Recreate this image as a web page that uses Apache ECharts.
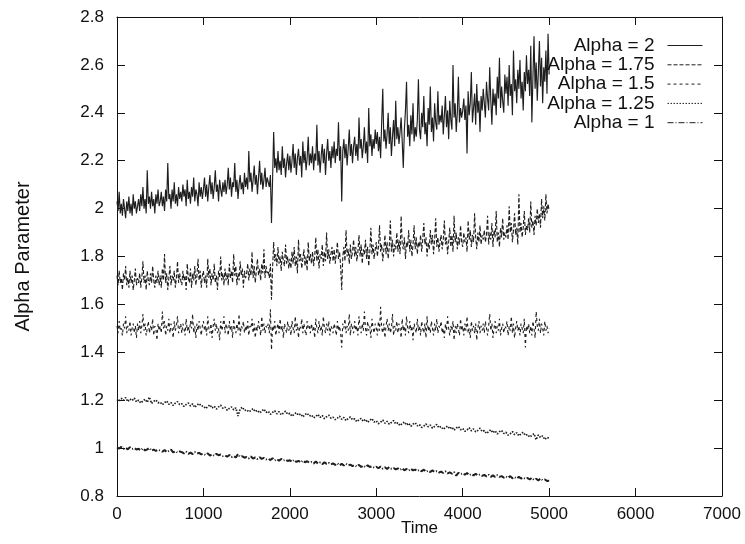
<!DOCTYPE html>
<html>
<head>
<meta charset="utf-8">
<script src="https://cdn.jsdelivr.net/npm/echarts@6/dist/echarts.min.js"></script>
<style>
html,body{margin:0;padding:0;background:#fff;}
#chart{width:745px;height:544px;}
</style>
</head>
<body>
<div id="chart"></div>
<script>
const seriesNames = ["Alpha = 2", "Alpha = 1.75", "Alpha = 1.5", "Alpha = 1.25", "Alpha = 1"];
const xTicks = [0, 1000, 2000, 3000, 4000, 5000, 6000, 7000];
const yTicks = [0.8, 1, 1.2, 1.4, 1.6, 1.8, 2, 2.2, 2.4, 2.6, 2.8];

// fine time grid (used by the three noisier series)
const timeFine = [
0,12.5,25,37.5,50,62.5,75,87.5,100,112.5,125,137.5,150,162.5,175,187.5,200,212.5,225,237.5,
250,262.5,275,287.5,300,312.5,325,337.5,350,362.5,375,387.5,400,412.5,425,437.5,450,462.5,475,487.5,
500,512.5,525,537.5,550,562.5,575,587.5,600,612.5,625,637.5,650,662.5,675,687.5,700,712.5,725,737.5,
750,762.5,775,787.5,800,812.5,825,837.5,850,862.5,875,887.5,900,912.5,925,937.5,950,962.5,975,987.5,
1000,1012.5,1025,1037.5,1050,1062.5,1075,1087.5,1100,1112.5,1125,1137.5,1150,1162.5,1175,1187.5,1200,1212.5,1225,1237.5,
1250,1262.5,1275,1287.5,1300,1312.5,1325,1337.5,1350,1362.5,1375,1387.5,1400,1412.5,1425,1437.5,1450,1462.5,1475,1487.5,
1500,1512.5,1525,1537.5,1550,1562.5,1575,1587.5,1600,1612.5,1625,1637.5,1650,1662.5,1675,1687.5,1700,1712.5,1725,1737.5,
1750,1762.5,1775,1787.5,1800,1812.5,1825,1837.5,1850,1862.5,1875,1887.5,1900,1912.5,1925,1937.5,1950,1962.5,1975,1987.5,
2000,2012.5,2025,2037.5,2050,2062.5,2075,2087.5,2100,2112.5,2125,2137.5,2150,2162.5,2175,2187.5,2200,2212.5,2225,2237.5,
2250,2262.5,2275,2287.5,2300,2312.5,2325,2337.5,2350,2362.5,2375,2387.5,2400,2412.5,2425,2437.5,2450,2462.5,2475,2487.5,
2500,2512.5,2525,2537.5,2550,2562.5,2575,2587.5,2600,2612.5,2625,2637.5,2650,2662.5,2675,2687.5,2700,2712.5,2725,2737.5,
2750,2762.5,2775,2787.5,2800,2812.5,2825,2837.5,2850,2862.5,2875,2887.5,2900,2912.5,2925,2937.5,2950,2962.5,2975,2987.5,
3000,3012.5,3025,3037.5,3050,3062.5,3075,3087.5,3100,3112.5,3125,3137.5,3150,3162.5,3175,3187.5,3200,3212.5,3225,3237.5,
3250,3262.5,3275,3287.5,3300,3312.5,3325,3337.5,3350,3362.5,3375,3387.5,3400,3412.5,3425,3437.5,3450,3462.5,3475,3487.5,
3500,3512.5,3525,3537.5,3550,3562.5,3575,3587.5,3600,3612.5,3625,3637.5,3650,3662.5,3675,3687.5,3700,3712.5,3725,3737.5,
3750,3762.5,3775,3787.5,3800,3812.5,3825,3837.5,3850,3862.5,3875,3887.5,3900,3912.5,3925,3937.5,3950,3962.5,3975,3987.5,
4000,4012.5,4025,4037.5,4050,4062.5,4075,4087.5,4100,4112.5,4125,4137.5,4150,4162.5,4175,4187.5,4200,4212.5,4225,4237.5,
4250,4262.5,4275,4287.5,4300,4312.5,4325,4337.5,4350,4362.5,4375,4387.5,4400,4412.5,4425,4437.5,4450,4462.5,4475,4487.5,
4500,4512.5,4525,4537.5,4550,4562.5,4575,4587.5,4600,4612.5,4625,4637.5,4650,4662.5,4675,4687.5,4700,4712.5,4725,4737.5,
4750,4762.5,4775,4787.5,4800,4812.5,4825,4837.5,4850,4862.5,4875,4887.5,4900,4912.5,4925,4937.5,4950,4962.5,4975,4987.5,
5000];

// coarse time grid (used by the two smoother series)
const timeCoarse = [
0,25,50,75,100,125,150,175,200,225,
250,275,300,325,350,375,400,425,450,475,
500,525,550,575,600,625,650,675,700,725,
750,775,800,825,850,875,900,925,950,975,
1000,1025,1050,1075,1100,1125,1150,1175,1200,1225,
1250,1275,1300,1325,1350,1375,1400,1425,1450,1475,
1500,1525,1550,1575,1600,1625,1650,1675,1700,1725,
1750,1775,1800,1825,1850,1875,1900,1925,1950,1975,
2000,2025,2050,2075,2100,2125,2150,2175,2200,2225,
2250,2275,2300,2325,2350,2375,2400,2425,2450,2475,
2500,2525,2550,2575,2600,2625,2650,2675,2700,2725,
2750,2775,2800,2825,2850,2875,2900,2925,2950,2975,
3000,3025,3050,3075,3100,3125,3150,3175,3200,3225,
3250,3275,3300,3325,3350,3375,3400,3425,3450,3475,
3500,3525,3550,3575,3600,3625,3650,3675,3700,3725,
3750,3775,3800,3825,3850,3875,3900,3925,3950,3975,
4000,4025,4050,4075,4100,4125,4150,4175,4200,4225,
4250,4275,4300,4325,4350,4375,4400,4425,4450,4475,
4500,4525,4550,4575,4600,4625,4650,4675,4700,4725,
4750,4775,4800,4825,4850,4875,4900,4925,4950,4975,
5000];

const alpha2 = [
2.03,1.99,2.07,1.98,2.02,1.97,2.04,2.00,1.96,2.03,1.99,2.05,1.98,2.02,1.97,2.06,2.00,2.03,1.98,2.01,
2.04,1.99,2.06,2.01,2.09,2.00,2.04,1.98,2.16,2.02,2.05,2.00,2.07,2.01,2.04,1.98,2.06,2.02,2.08,2.01,
2.03,2.07,2.01,2.05,1.99,2.08,2.03,2.19,2.04,2.06,2.00,2.08,2.03,2.11,2.02,2.06,2.01,2.09,2.04,2.07,
2.03,2.10,2.05,2.08,2.01,2.12,2.04,2.07,2.02,2.09,2.05,2.13,2.03,2.08,2.06,2.01,2.11,2.05,2.09,2.04,
2.08,2.13,2.05,2.10,2.03,2.09,2.14,2.06,2.11,2.04,2.09,2.16,2.07,2.10,2.03,2.12,2.08,2.05,2.11,2.07,
2.12,2.06,2.10,2.17,2.08,2.13,2.05,2.11,2.09,2.19,2.07,2.12,2.04,2.10,2.14,2.08,2.11,2.06,2.15,2.09,
2.13,2.08,2.24,2.11,2.15,2.07,2.12,2.18,2.10,2.14,2.06,2.13,2.20,2.10,2.15,2.08,2.12,2.17,2.09,2.13,
2.13,2.09,2.14,1.94,2.12,2.32,2.17,2.21,2.15,2.24,2.16,2.20,2.14,2.26,2.17,2.21,2.13,2.19,2.23,2.16,
2.22,2.15,2.20,2.27,2.17,2.23,2.14,2.21,2.25,2.18,2.22,2.13,2.28,2.19,2.24,2.16,2.21,2.30,2.18,2.23,
2.19,2.26,2.16,2.23,2.20,2.35,2.18,2.24,2.15,2.22,2.27,2.19,2.25,2.14,2.23,2.29,2.20,2.24,2.17,2.26,
2.21,2.28,2.19,2.25,2.22,2.36,2.20,2.26,2.03,2.24,2.29,2.21,2.27,2.18,2.25,2.33,2.22,2.27,2.19,2.26,
2.30,2.22,2.27,2.20,2.38,2.25,2.29,2.21,2.26,2.34,2.23,2.28,2.19,2.42,2.26,2.31,2.22,2.29,2.25,2.33,
2.27,2.32,2.24,2.30,2.21,2.36,2.50,2.28,2.33,2.25,2.31,2.40,2.27,2.34,2.22,2.30,2.37,2.26,2.45,2.29,
2.34,2.27,2.32,2.38,2.28,2.17,2.33,2.41,2.53,2.30,2.35,2.26,2.39,2.31,2.44,2.28,2.34,2.30,2.37,2.54,
2.33,2.29,2.40,2.34,2.47,2.31,2.36,2.26,2.42,2.35,2.51,2.32,2.38,2.28,2.44,2.36,2.33,2.49,2.35,2.39,
2.36,2.43,2.31,2.39,2.47,2.34,2.41,2.29,2.45,2.37,2.33,2.60,2.38,2.44,2.32,2.40,2.55,2.36,2.42,2.38,
2.41,2.46,2.37,2.43,2.23,2.49,2.39,2.44,2.57,2.36,2.42,2.48,2.35,2.52,2.40,2.45,2.32,2.47,2.41,2.50,
2.44,2.38,2.53,2.46,2.41,2.59,2.45,2.35,2.50,2.43,2.48,2.39,2.55,2.46,2.63,2.42,2.51,2.45,2.40,2.56,
2.48,2.55,2.43,2.60,2.47,2.52,2.39,2.66,2.49,2.54,2.44,2.58,2.50,2.62,2.46,2.53,2.41,2.57,2.49,2.64,
2.52,2.58,2.47,2.68,2.36,2.55,2.72,2.50,2.61,2.45,2.57,2.70,2.51,2.63,2.44,2.59,2.53,2.66,2.48,2.73,
2.56];

const alpha175 = [
1.72,1.68,1.74,1.69,1.71,1.66,1.73,1.70,1.76,1.68,1.71,1.67,1.74,1.69,1.72,1.66,1.70,1.75,1.68,1.71,
1.69,1.73,1.67,1.71,1.78,1.69,1.72,1.66,1.74,1.70,1.68,1.73,1.69,1.76,1.70,1.67,1.72,1.69,1.74,1.68,
1.72,1.67,1.75,1.70,1.81,1.69,1.73,1.66,1.71,1.76,1.68,1.72,1.70,1.74,1.67,1.71,1.78,1.69,1.73,1.70,
1.68,1.74,1.70,1.72,1.66,1.77,1.71,1.69,1.75,1.67,1.73,1.70,1.76,1.68,1.72,1.79,1.70,1.74,1.67,1.72,
1.74,1.69,1.72,1.67,1.79,1.71,1.75,1.68,1.73,1.70,1.77,1.69,1.72,1.66,1.74,1.71,1.80,1.70,1.73,1.68,
1.75,1.70,1.73,1.68,1.77,1.71,1.74,1.69,1.81,1.72,1.76,1.68,1.73,1.70,1.78,1.72,1.75,1.67,1.74,1.71,
1.73,1.77,1.70,1.75,1.72,1.82,1.71,1.76,1.69,1.74,1.79,1.72,1.75,1.70,1.77,1.73,1.83,1.71,1.76,1.73,
1.74,1.71,1.77,1.62,1.75,1.86,1.78,1.81,1.76,1.84,1.77,1.80,1.74,1.82,1.78,1.76,1.85,1.77,1.80,1.75,
1.79,1.75,1.82,1.77,1.84,1.76,1.80,1.73,1.87,1.78,1.81,1.75,1.79,1.83,1.76,1.80,1.74,1.86,1.78,1.81,
1.77,1.82,1.76,1.80,1.88,1.78,1.83,1.75,1.81,1.79,1.85,1.76,1.82,1.78,1.90,1.79,1.83,1.77,1.81,1.84,
1.78,1.83,1.77,1.81,1.86,1.79,1.82,1.76,1.66,1.80,1.84,1.78,1.91,1.80,1.83,1.77,1.85,1.79,1.82,1.87,
1.80,1.84,1.78,1.82,1.89,1.80,1.85,1.77,1.83,1.81,1.87,1.79,1.84,1.76,1.82,1.92,1.81,1.85,1.79,1.83,
1.86,1.80,1.84,1.93,1.82,1.85,1.78,1.83,1.89,1.81,1.86,1.79,1.84,1.95,1.82,1.87,1.80,1.85,1.83,1.90,
1.82,1.87,1.81,1.97,1.85,1.83,1.88,1.79,1.86,1.84,1.91,1.82,1.87,1.80,1.85,1.93,1.83,1.88,1.81,1.86,
1.84,1.89,1.82,1.87,1.94,1.85,1.88,1.80,1.86,1.83,1.91,1.85,1.89,1.81,1.87,1.96,1.84,1.88,1.82,1.86,
1.89,1.83,1.87,1.95,1.85,1.88,1.81,1.86,1.92,1.84,1.89,1.82,1.97,1.86,1.90,1.83,1.88,1.85,1.93,1.86,
1.84,1.90,1.86,1.88,1.82,1.95,1.87,1.91,1.84,1.89,1.86,1.98,1.88,1.83,1.90,1.86,1.93,1.85,1.89,1.87,
1.91,1.86,1.89,1.97,1.85,1.90,1.87,1.94,1.84,1.91,1.88,1.99,1.86,1.90,1.84,1.92,1.88,1.96,1.87,1.90,
1.88,1.93,1.87,2.01,1.90,1.94,1.86,1.91,1.98,1.89,1.92,1.85,2.06,1.90,1.94,1.88,1.92,1.99,1.89,1.93,
1.91,1.96,1.90,2.03,1.92,1.95,1.89,1.97,1.93,2.00,1.94,1.98,1.92,2.04,1.96,2.01,1.95,2.06,1.98,2.02,
1.99];

const alpha15 = [
1.51,1.48,1.53,1.49,1.50,1.47,1.52,1.50,1.55,1.48,1.51,1.49,1.53,1.47,1.50,1.52,1.48,1.51,1.46,1.52,
1.49,1.53,1.48,1.51,1.56,1.49,1.52,1.47,1.50,1.53,1.48,1.51,1.49,1.54,1.47,1.51,1.50,1.45,1.52,1.49,
1.51,1.48,1.57,1.50,1.53,1.47,1.51,1.49,1.54,1.48,1.52,1.50,1.46,1.53,1.49,1.51,1.55,1.48,1.50,1.52,
1.48,1.52,1.50,1.47,1.54,1.49,1.51,1.48,1.53,1.50,1.56,1.48,1.51,1.46,1.52,1.49,1.53,1.50,1.47,1.51,
1.53,1.49,1.51,1.47,1.55,1.50,1.48,1.52,1.46,1.51,1.54,1.49,1.52,1.48,1.50,1.45,1.53,1.49,1.51,1.55,
1.48,1.52,1.50,1.47,1.53,1.49,1.51,1.46,1.54,1.50,1.48,1.52,1.49,1.56,1.47,1.51,1.50,1.53,1.48,1.51,
1.49,1.53,1.47,1.51,1.50,1.54,1.48,1.52,1.46,1.51,1.49,1.53,1.50,1.47,1.55,1.49,1.52,1.48,1.51,1.50,
1.52,1.48,1.58,1.41,1.51,1.49,1.53,1.47,1.50,1.52,1.48,1.54,1.49,1.51,1.46,1.52,1.50,1.48,1.53,1.49,
1.51,1.47,1.53,1.50,1.48,1.55,1.49,1.52,1.46,1.51,1.50,1.54,1.48,1.52,1.49,1.47,1.53,1.50,1.51,1.48,
1.52,1.49,1.51,1.46,1.54,1.50,1.48,1.53,1.49,1.51,1.47,1.55,1.50,1.48,1.52,1.49,1.53,1.47,1.51,1.50,
1.48,1.52,1.50,1.47,1.53,1.49,1.51,1.48,1.42,1.52,1.50,1.54,1.48,1.51,1.49,1.56,1.47,1.52,1.50,1.48,
1.53,1.49,1.51,1.47,1.55,1.50,1.48,1.52,1.49,1.57,1.50,1.47,1.53,1.49,1.51,1.46,1.54,1.50,1.48,1.52,
1.50,1.47,1.53,1.49,1.59,1.50,1.48,1.52,1.46,1.51,1.54,1.49,1.52,1.48,1.50,1.56,1.47,1.51,1.49,1.53,
1.48,1.52,1.50,1.46,1.54,1.49,1.51,1.47,1.55,1.50,1.48,1.53,1.49,1.51,1.45,1.52,1.50,1.48,1.54,1.49,
1.51,1.47,1.53,1.50,1.48,1.52,1.46,1.55,1.49,1.51,1.48,1.53,1.50,1.47,1.52,1.49,1.54,1.48,1.51,1.50,
1.53,1.48,1.50,1.46,1.52,1.49,1.55,1.50,1.47,1.51,1.49,1.53,1.45,1.51,1.48,1.52,1.50,1.47,1.54,1.49,
1.51,1.47,1.52,1.49,1.55,1.48,1.50,1.46,1.53,1.49,1.51,1.48,1.52,1.45,1.50,1.53,1.48,1.51,1.49,1.52,
1.48,1.53,1.50,1.47,1.51,1.56,1.49,1.52,1.46,1.50,1.53,1.48,1.51,1.49,1.54,1.47,1.50,1.52,1.48,1.51,
1.50,1.53,1.47,1.51,1.49,1.55,1.48,1.52,1.46,1.50,1.53,1.49,1.51,1.47,1.52,1.50,1.48,1.54,1.42,1.51,
1.49,1.52,1.48,1.51,1.47,1.53,1.50,1.46,1.57,1.51,1.49,1.54,1.48,1.52,1.50,1.47,1.53,1.49,1.51,1.48,
1.50];

const alpha125 = [
1.203,1.196,1.208,1.199,1.211,1.194,1.205,1.198,1.209,1.193,
1.200,1.188,1.197,1.204,1.191,1.213,1.186,1.195,1.201,1.189,
1.192,1.181,1.189,1.197,1.183,1.190,1.178,1.188,1.194,1.182,
1.185,1.174,1.182,1.188,1.176,1.185,1.170,1.180,1.186,1.175,
1.176,1.165,1.173,1.181,1.167,1.175,1.163,1.172,1.179,1.166,
1.171,1.158,1.166,1.172,1.160,1.168,1.134,1.163,1.171,1.157,
1.160,1.151,1.157,1.165,1.152,1.158,1.147,1.155,1.163,1.149,
1.154,1.141,1.149,1.156,1.143,1.152,1.139,1.146,1.154,1.141,
1.145,1.133,1.142,1.148,1.137,1.143,1.130,1.140,1.146,1.134,
1.138,1.126,1.132,1.141,1.128,1.136,1.123,1.131,1.137,1.125,
1.129,1.119,1.125,1.133,1.120,1.128,1.115,1.124,1.130,1.118,
1.122,1.110,1.118,1.124,1.112,1.120,1.107,1.116,1.123,1.109,
1.114,1.102,1.108,1.117,1.104,1.112,1.100,1.107,1.115,1.101,
1.106,1.094,1.102,1.109,1.096,1.104,1.091,1.100,1.106,1.093,
1.098,1.086,1.092,1.101,1.089,1.096,1.083,1.091,1.099,1.085,
1.090,1.078,1.086,1.092,1.080,1.088,1.075,1.084,1.090,1.077,
1.082,1.070,1.076,1.085,1.072,1.080,1.068,1.074,1.083,1.069,
1.073,1.061,1.069,1.077,1.064,1.072,1.059,1.068,1.074,1.061,
1.066,1.054,1.060,1.069,1.056,1.064,1.051,1.060,1.066,1.053,
1.057,1.046,1.053,1.060,1.035,1.055,1.044,1.051,1.036,1.045,
1.041];

const alpha1 = [
1.003,0.998,1.005,0.997,1.001,0.995,1.004,0.996,1.000,0.994,
0.997,0.991,0.999,0.990,0.995,1.001,0.989,0.994,0.988,0.993,
0.990,0.985,0.992,0.983,0.988,0.994,0.982,0.987,0.981,0.986,
0.983,0.978,0.985,0.976,0.981,0.975,0.983,0.977,0.980,0.974,
0.976,0.971,0.978,0.969,0.974,0.968,0.976,0.970,0.973,0.967,
0.969,0.964,0.971,0.962,0.967,0.961,0.975,0.963,0.966,0.960,
0.963,0.957,0.965,0.956,0.961,0.954,0.962,0.955,0.959,0.953,
0.956,0.950,0.958,0.949,0.954,0.947,0.955,0.948,0.952,0.946,
0.949,0.943,0.951,0.942,0.947,0.940,0.948,0.941,0.945,0.939,
0.942,0.936,0.944,0.935,0.940,0.933,0.941,0.934,0.938,0.932,
0.936,0.930,0.937,0.928,0.934,0.927,0.935,0.928,0.931,0.925,
0.929,0.923,0.930,0.921,0.927,0.920,0.928,0.921,0.924,0.918,
0.922,0.916,0.923,0.914,0.920,0.913,0.921,0.914,0.917,0.911,
0.915,0.909,0.916,0.907,0.913,0.906,0.914,0.907,0.910,0.904,
0.909,0.903,0.910,0.901,0.906,0.900,0.907,0.900,0.904,0.898,
0.902,0.896,0.903,0.894,0.899,0.893,0.900,0.885,0.897,0.891,
0.895,0.889,0.896,0.887,0.892,0.886,0.893,0.886,0.890,0.884,
0.888,0.882,0.889,0.880,0.886,0.879,0.887,0.880,0.883,0.877,
0.882,0.876,0.883,0.874,0.879,0.873,0.880,0.873,0.877,0.871,
0.875,0.869,0.876,0.867,0.872,0.865,0.873,0.866,0.869,0.863,
0.864];

const seriesValues = [alpha2, alpha175, alpha15, alpha125, alpha1];
const seriesTimes = [timeFine, timeFine, timeFine, timeCoarse, timeCoarse];
const dashTypes = ['solid', [4, 2], [3, 3], [1.5, 1.5], [6, 2, 1, 2]];
const lineWidths = [1.15, 1.1, 1.1, 1.7, 2];

const FONT = '"Liberation Sans", Arial, Helvetica, sans-serif';
const INK = '#111';
const LINE = '#1e1e1e';

function pairs(times, vals) {
  return vals.map((v, i) => [times[i], v]);
}

const chart = echarts.init(document.getElementById('chart'), null, {renderer: 'canvas'});

const commonX = {
  type: 'value', min: xTicks[0], max: xTicks[xTicks.length - 1], interval: 1000,
  axisLine: {show: true, onZero: false, lineStyle: {color: INK, width: 1}},
  axisTick: {show: true, inside: true, length: 8, lineStyle: {color: INK, width: 1}},
  splitLine: {show: false}
};
const commonY = {
  type: 'value', min: yTicks[0], max: yTicks[yTicks.length - 1], interval: 0.2,
  axisLine: {show: true, onZero: false, lineStyle: {color: INK, width: 1}},
  axisTick: {show: true, inside: true, length: 8, lineStyle: {color: INK, width: 1}},
  splitLine: {show: false}
};

chart.setOption({
  animation: false,
  backgroundColor: '#fff',
  grid: {left: 117, right: 23, top: 17, bottom: 48, containLabel: false, outerBoundsMode: 'none'},
  xAxis: [
    Object.assign({}, commonX, {
      position: 'bottom',
      name: 'Time', nameLocation: 'middle', nameGap: 24, nameMoveOverlap: false,
      nameTextStyle: {fontFamily: FONT, fontSize: 17, color: INK},
      axisLabel: {show: true, margin: 10, fontFamily: FONT, fontSize: 17, color: INK,
        formatter: v => String(v)}
    }),
    Object.assign({}, commonX, {position: 'top', axisLabel: {show: false}})
  ],
  yAxis: [
    Object.assign({}, commonY, {
      position: 'left',
      name: 'Alpha Parameter', nameLocation: 'middle', nameGap: 84, nameRotate: 90,
      nameTextStyle: {fontFamily: FONT, fontSize: 20, color: INK},
      axisLabel: {show: true, margin: 13, fontFamily: FONT, fontSize: 17, color: INK,
        formatter: v => String(+v.toFixed(1))}
    }),
    Object.assign({}, commonY, {position: 'right', axisLabel: {show: false}})
  ],
  legend: {
    orient: 'vertical', right: 42, top: 36, align: 'right', padding: 0,
    itemWidth: 35, itemHeight: 14, itemGap: 0.3,
    data: seriesNames,
    itemStyle: {opacity: 0},
    lineStyle: {width: 1},
    textStyle: {fontFamily: FONT, fontSize: 19, lineHeight: 19, color: INK, padding: [0, 8, 0, 0]},
    inactiveColor: '#ccc'
  },
  series: seriesNames.map((name, k) => ({
    name: name,
    type: 'line',
    xAxisIndex: 0, yAxisIndex: 0,
    data: pairs(seriesTimes[k], seriesValues[k]),
    showSymbol: false, symbol: 'none',
    lineStyle: {color: LINE, width: lineWidths[k], type: dashTypes[k]},
    itemStyle: {color: LINE},
    emphasis: {disabled: true}
  }))
});
</script>
</body>
</html>
